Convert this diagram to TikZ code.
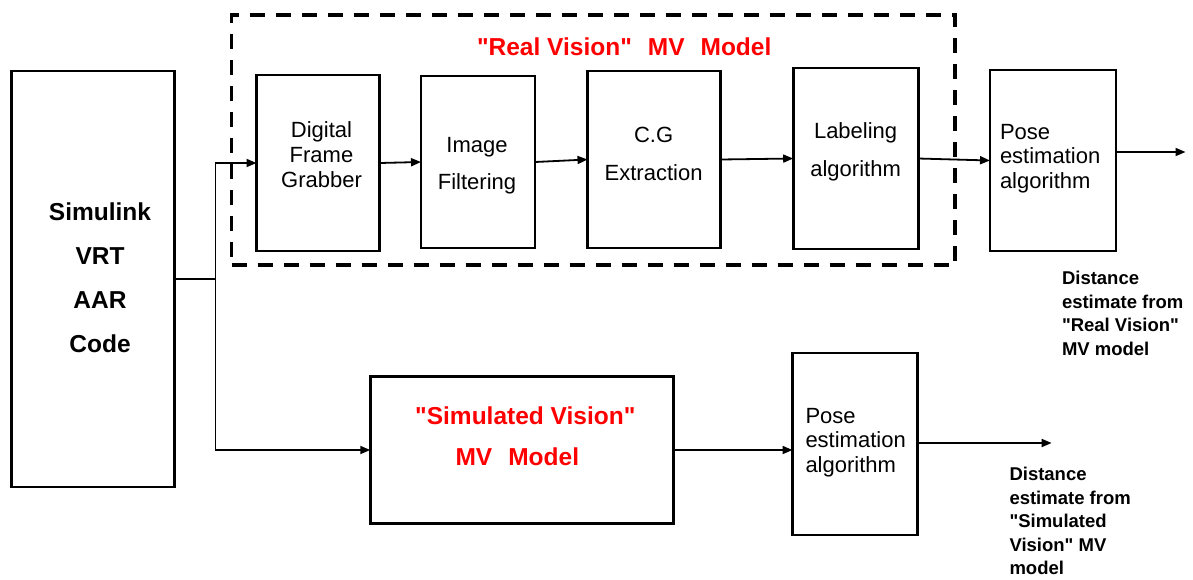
\documentclass[tikz,border=0pt]{standalone}
\usepackage{fontspec}
\setmainfont{Liberation Sans}[Ligatures=TeXOff]
\usetikzlibrary{arrows.meta}

\begin{document}
\begin{tikzpicture}[x=1pt,y=-1pt,
  block/.style={draw, line width=2.6pt, inner sep=0pt, outer sep=0pt},
  dashbox/.style={draw, line width=3.6pt, dash pattern=on 15pt off 11pt, inner sep=0pt},
  lbl/.style={inner sep=0pt, outer sep=0pt},
  conn/.style={line width=1.8pt},
  arr/.style={conn, -{Triangle[length=10pt,width=8pt]}},
  redtitle/.style={lbl, text=red, font=\fontsize{24.5}{41}\selectfont\bfseries}]

% canvas
\fill[white] (0,0) rectangle (1193,579);
\useasboundingbox (0,0) rectangle (1193,579);

% group frame of the real vision chain
\node[dashbox, minimum width=723.5pt, minimum height=250pt] (rvframe) at (593.25,140) {};
\node[redtitle] (rvtitle) at (624.2,47) {"Real Vision"\hspace{16pt}MV\hspace{16pt}Model};

% source block
\node[block, minimum width=163pt, minimum height=416pt] (sim) at (93,279) {};
\node[lbl, align=center, font=\fontsize{24.5}{44}\selectfont\bfseries] (simtxt) at (100,277.5)
  {Simulink\\VRT\\AAR\\Code};

% real vision chain
\node[block, minimum width=123pt, minimum height=176pt] (dfg) at (318,163) {};
\node[lbl, align=center, font=\fontsize{22}{25}\selectfont] (dfgtxt) at (321.5,155)
  {Digital\\Frame\\Grabber};

\node[block, minimum width=114pt, minimum height=172pt] (imf) at (478,162) {};
\node[lbl, align=center, font=\fontsize{22}{37}\selectfont] (imftxt) at (477,165.5)
  {Image\\Filtering};

\node[block, minimum width=133pt, minimum height=177pt] (cge) at (654,159.5) {};
\node[lbl, align=center, font=\fontsize{22}{38}\selectfont] (cgetxt) at (653.6,154)
  {C.G\\Extraction};

\node[block, minimum width=125pt, minimum height=181pt] (lab) at (855.7,158.5) {};
\node[lbl, align=center, font=\fontsize{22}{38}\selectfont] (labtxt) at (855.6,152)
  {Labeling\\algorithm};

\node[block, minimum width=126pt, minimum height=181pt] (pose1) at (1053,160.5) {};
\node[lbl, align=left, anchor=west, font=\fontsize{22}{24.5}\selectfont] (pose1txt) at (1000,158.5)
  {Pose\\estimation\\algorithm};

% simulated vision chain
\node[block, minimum width=303.5pt, minimum height=147pt] (simv) at (522,450) {};
\node[redtitle, align=center] (simvtxt) at (525.3,436)
  {"Simulated Vision"\\MV\hspace{16pt}Model\hspace*{16pt}};

\node[block, minimum width=125pt, minimum height=182pt] (pose2) at (855,444) {};
\node[lbl, align=left, anchor=west, font=\fontsize{22}{24.5}\selectfont] (pose2txt) at (805.5,442.5)
  {Pose\\estimation\\algorithm};

% outputs
\coordinate (out1) at (1185.5,152);
\coordinate (out2) at (1051.6,443);
\node[lbl, align=left, anchor=west, font=\fontsize{18.5}{23.5}\selectfont\bfseries] (d1) at (1062,313.5)
  {Distance\\estimate from\\"Real Vision"\\MV model};
\node[lbl, align=left, anchor=west, font=\fontsize{18.5}{23.5}\selectfont\bfseries] (d2) at (1009.5,521)
  {Distance\\estimate from\\"Simulated\\Vision" MV\\model};

% connectors
\coordinate (br) at (215.5,279);
\draw[conn] (sim.east |- br) -- (br);
\draw[arr] (br) |- (dfg.west);
\draw[arr] (br) |- (simv.west);
\draw[arr] (dfg.east) -- (imf.west);
\draw[arr] (imf.east) -- (cge.west);
\draw[arr] (cge.east) -- (lab.west);
\draw[arr] (lab.east) -- (pose1.west);
\draw[arr] (pose1.east |- out1) -- (out1);
\draw[arr] (simv.east) -- (simv.east -| pose2.west);
\draw[arr] (pose2.east |- out2) -- (out2);
\end{tikzpicture}
\end{document}
